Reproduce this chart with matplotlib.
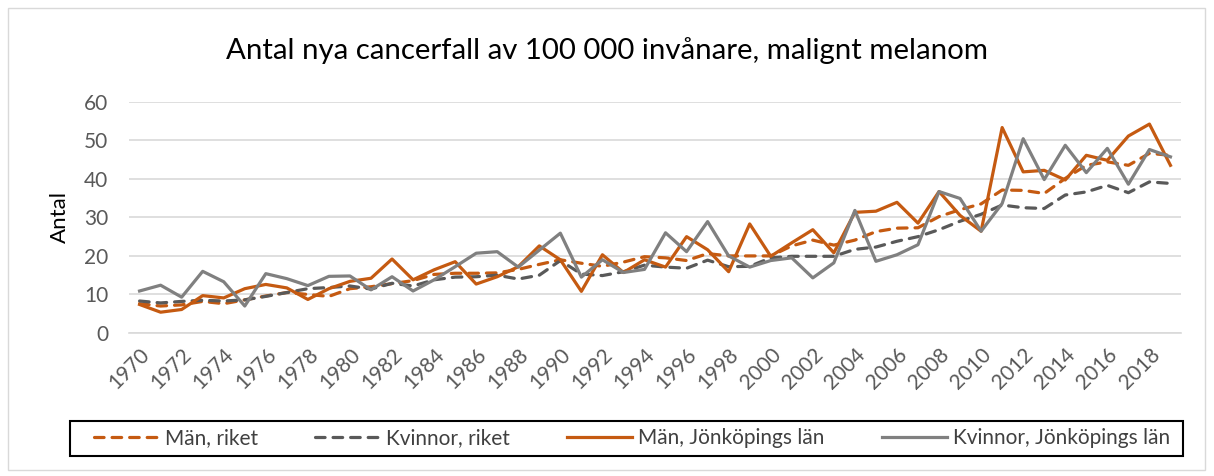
import matplotlib.pyplot as plt
from matplotlib.patches import Rectangle

plt.rcParams['font.family'] = ['Lato', 'DejaVu Sans']

years = list(range(1970, 2020))

man_riket = [7.6, 7.0, 7.3, 8.2, 7.6, 8.6, 9.6, 10.5, 10.0, 9.5,
             11.5, 12.0, 12.8, 13.6, 15.2, 15.5, 15.5, 15.6, 16.5, 17.8,
             19.0, 18.1, 17.3, 18.4, 19.8, 19.5, 18.8, 20.6, 20.0, 20.0,
             20.0, 22.6, 24.1, 22.8, 24.1, 26.3, 27.2, 27.3, 30.2, 32.0,
             33.5, 37.1, 37.0, 36.2, 40.1, 43.5, 44.4, 43.5, 46.6, 46.1]

kvinnor_riket = [8.3, 7.8, 8.2, 8.5, 8.3, 8.6, 9.5, 10.5, 11.5, 11.8,
                 12.2, 11.4, 12.9, 12.2, 13.8, 14.5, 14.6, 15.0, 14.0, 15.0,
                 18.8, 15.3, 14.9, 15.9, 17.6, 17.1, 16.8, 18.9, 17.2, 17.3,
                 19.5, 19.9, 19.9, 19.9, 21.7, 22.3, 23.8, 25.0, 26.8, 29.0,
                 30.8, 33.2, 32.5, 32.3, 35.8, 36.6, 38.3, 36.4, 39.2, 38.8]

man_jkpg = [7.4, 5.4, 6.1, 9.7, 9.1, 11.5, 12.6, 11.7, 8.7, 11.5,
            13.4, 14.2, 19.2, 13.8, 16.4, 18.5, 12.7, 14.6, 17.2, 22.6,
            19.0, 10.8, 20.3, 15.7, 19.0, 17.1, 25.0, 21.6, 15.9, 28.3,
            19.9, 23.4, 26.8, 20.8, 31.3, 31.6, 33.9, 28.5, 36.7, 30.5,
            26.4, 53.3, 41.8, 42.2, 39.7, 46.1, 44.8, 51.1, 54.2, 43.5]

kvinnor_jkpg = [10.9, 12.4, 9.3, 16.0, 13.3, 7.0, 15.4, 14.1, 12.3, 14.7,
                14.8, 11.2, 14.6, 10.9, 13.8, 17.2, 20.7, 21.1, 17.1, 21.5,
                25.9, 14.5, 19.0, 15.7, 16.5, 26.0, 21.1, 28.9, 20.0, 17.1,
                18.8, 19.5, 14.3, 18.2, 31.8, 18.6, 20.3, 22.9, 36.7, 34.9,
                26.4, 33.6, 50.4, 39.8, 48.7, 41.6, 47.9, 38.6, 47.6, 45.7]

orange = '#C55A11'
dark = '#595959'
grey = '#808080'

fig = plt.figure(figsize=(12.14, 4.76), dpi=100)
ax = fig.add_axes([0.1063, 0.3004, 0.8665, 0.4859])

x = range(len(years))
dash = (0, (3, 2.5))
ax.plot(x, man_riket, color=orange, lw=2.3, ls=dash, dash_capstyle='round', label='Män, riket')
ax.plot(x, kvinnor_riket, color=dark, lw=2.3, ls=dash, dash_capstyle='round', label='Kvinnor, riket')
ax.plot(x, man_jkpg, color=orange, lw=2.3, label='Män, Jönköpings län')
ax.plot(x, kvinnor_jkpg, color=grey, lw=2.3, label='Kvinnor, Jönköpings län')

ax.set_xlim(-0.5, len(years) - 0.5)
ax.set_ylim(0, 60)
ax.set_yticks(range(0, 61, 10))
ax.set_xticks(list(x)[::2])
ax.set_xticklabels([str(y) for y in years[::2]], rotation=45, ha='right',
                   rotation_mode='anchor')
ax.tick_params(axis='both', length=0, labelsize=15, labelcolor='#595959')
ax.tick_params(axis='y', pad=15)
ax.tick_params(axis='x', pad=8)
ax.grid(axis='y', color='#D9D9D9', lw=1.2)
ax.set_axisbelow(True)
for s in ['top', 'right', 'left']:
    ax.spines[s].set_visible(False)
ax.spines['bottom'].set_color('#D9D9D9')
ax.spines['bottom'].set_linewidth(1.2)

ax.set_ylabel('Antal', fontsize=16, color='black', labelpad=10)
fig.text(0.5, 0.893, 'Antal nya cancerfall av 100 000 invånare, malignt melanom',
         ha='center', va='center', fontsize=21.2)

# legend contents spread over the inner area, frame drawn separately
leg = fig.legend(loc='center left', bbox_to_anchor=(94 / 1214, 1 - 456 / 476, 1076 / 1214, 35 / 476),
                 ncol=4, mode='expand', fontsize=15, frameon=False,
                 handlelength=3.1, borderaxespad=0, handletextpad=0.3, borderpad=0)
for t in leg.get_texts():
    t.set_color('#404040')
fig.patches.append(Rectangle((70 / 1214, 1 - 456 / 476), 1113 / 1214, 35 / 476,
                             transform=fig.transFigure, fill=False,
                             edgecolor='black', lw=1.5))

fig.patches.append(Rectangle((8 / 1214, 6 / 476), 1197 / 1214, 462 / 476,
                             transform=fig.transFigure, fill=False,
                             edgecolor='#D9D9D9', lw=1))

plt.savefig('out.png', dpi=100)
